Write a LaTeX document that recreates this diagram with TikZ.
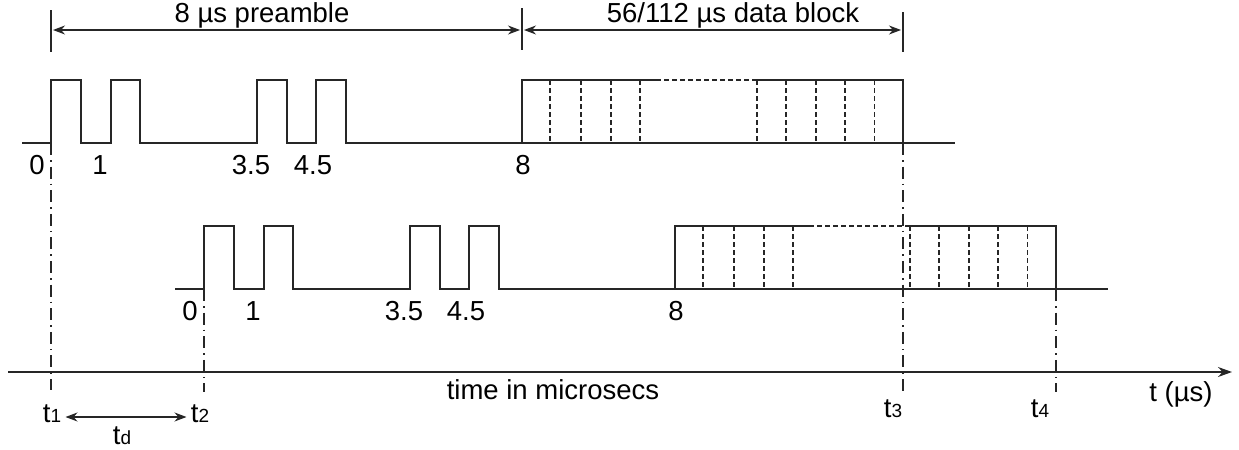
\documentclass[tikz,border=0pt]{standalone}
\usepackage{fontspec}
\setmainfont{Liberation Sans}
\usetikzlibrary{arrows.meta}
\newcommand\sub[1]{{\fontsize{9.5}{10}\selectfont #1}}
\newcommand\wave[1]{%
  \draw[sig] (22,143) -- (51,143) -- (51,80) -- (81,80) -- (81,143) -- (111,143) -- (111,80) -- (140,80) -- (140,143)
     -- (257,143) -- (257,80) -- (287,80) -- (287,143) -- (316,143) -- (316,80) -- (346,80) -- (346,143)
     -- (522,143) -- (522,80) -- (656,80);
  \draw[sig] (755,80) -- (903,80) -- (903,143);
  \draw[sig] (522,143) -- (955,143);
  \draw[bitline] (656,80) -- (755,80);
  \foreach \x in {550,581,611,640,757,786,816,845,874.5} \draw[bitline] (\x,80) -- (\x,143);
  \node[lbl] (#1z) at (37,165) {0};
  \node[lbl] (#1a) at (100,165) {1};
  \node[lbl] (#1b) at (251,165) {3.5};
  \node[lbl] (#1c) at (313,165) {4.5};
  \node[lbl] (#1d) at (523,165) {8};
}
\begin{document}
\begin{tikzpicture}[x=0.5pt,y=-0.5pt,
  sig/.style={draw=black!85,line width=0.7pt,line join=miter},
  bitline/.style={draw=black!85,line width=0.6pt,dash pattern=on 2.5pt off 1.5pt},
  dashdot/.style={draw=black!85,line width=0.7pt,dash pattern=on 6pt off 2.5pt on 0.8pt off 2.5pt},
  tick/.style={draw=black!85,line width=0.7pt},
  dim/.style={draw=black!85,line width=0.6pt,{Stealth[length=6pt,width=4.5pt]}-{Stealth[length=6pt,width=4.5pt]}},
  lbl/.style={font=\fontsize{13.75}{16}\selectfont,inner sep=1pt},
  tl/.style={font=\fontsize{13.75}{16}\selectfont,inner sep=2pt}]
\useasboundingbox (0,0) rectangle (1239,450);
% waveforms
\wave{A}
\begin{scope}[shift={(153,146)}]
\wave{B}
\end{scope}
% top ticks
\coordinate (k1t) at (51,10); \coordinate (k1b) at (51,52);
\coordinate (k2t) at (522,8); \coordinate (k2b) at (522,50);
\coordinate (k3t) at (903,12); \coordinate (k3b) at (903,52);
\draw[tick] (k1t) -- (k1b);
\draw[tick] (k2t) -- (k2b);
\draw[tick] (k3t) -- (k3b);
\coordinate (p1) at (51,30); \coordinate (p2) at (522,30); \coordinate (p3) at (903,30);
\draw[dim,shorten <=1pt,shorten >=1pt] (p1) -- (p2);
\draw[dim,shorten <=1pt,shorten >=1pt] (p2) -- (p3);
\node[lbl] (pre) at (262,15) {8 µs preamble};
\node[lbl] (dat) at (733,15) {56/112 µs data block};
% time axis
\coordinate (ax0) at (8,372); \coordinate (ax1) at (1232,372);
\draw[sig,-{Stealth[length=7pt,width=5pt]}] (ax0) -- (ax1);
\node[lbl] (tim) at (553,390) {time in microsecs};
\node[lbl] (tus) at (1181,394) {t (µs)};
% dash-dot verticals
\coordinate (v1a) at (51,143); \coordinate (v1b) at (51,390);
\coordinate (v2a) at (204,289); \coordinate (v2b) at (204,392);
\coordinate (v3a) at (903,143); \coordinate (v3b) at (903,392);
\coordinate (v4a) at (1056,289); \coordinate (v4b) at (1056,392);
\draw[dashdot] (v1a) -- (v1b);
\draw[dashdot] (v2a) -- (v2b);
\draw[dashdot] (v3a) -- (v3b);
\draw[dashdot] (v4a) -- (v4b);
% t labels
\node[tl] (t1) at (52,414) {t\sub{1}};
\node[tl] (t2) at (200,414) {t\sub{2}};
\node[tl] (t3) at (893,409) {t\sub{3}};
\node[tl] (t4) at (1040,409) {t\sub{4}};
\draw[dim] ([yshift=-1.5pt]t1.east) -- ([yshift=-1.5pt]t2.west);
\node[tl] (td) at (122,436) {t\sub{d}};
\end{tikzpicture}
\end{document}
